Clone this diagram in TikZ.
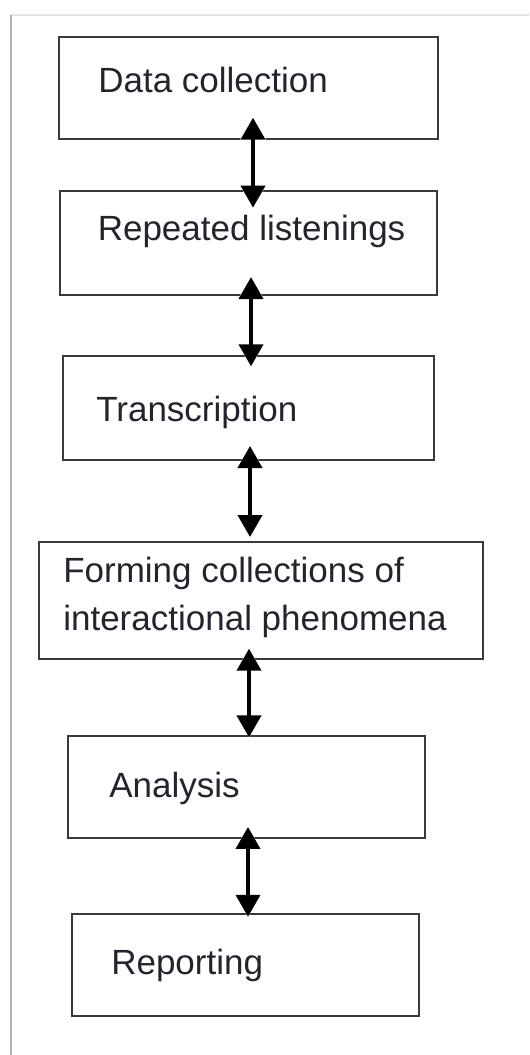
\documentclass[tikz,border=0pt]{standalone}
\usepackage{fontspec}
\setmainfont{Liberation Sans}
\usetikzlibrary{arrows.meta,calc}
\definecolor{boxline}{RGB}{58,58,58}
\definecolor{inktext}{RGB}{36,36,46}
\tikzset{
    stage/.style 2 args={draw=boxline, line width=1.4pt, inner sep=0pt, minimum width=#1cm, minimum height=#2cm},
    stagetext/.style={anchor=base west, inner sep=0pt, text=inktext, font=\fontsize{24.9}{33.6}\selectfont},
    linkgap/.style={draw=white, line width=2.8pt, {Triangle[width=0.78cm,length=0.68cm]}-{Triangle[width=0.78cm,length=0.68cm]}},
    link/.style={line width=2.8pt, {Triangle[width=0.6cm,length=0.55cm]}-{Triangle[width=0.6cm,length=0.55cm]}},
}

\begin{document}
\begin{tikzpicture}[x=0.025cm,y=-0.025cm]
		\useasboundingbox (0,0) rectangle (529,1055);
		\draw[color=gray!22,line width=1.4pt] (11,15) -- (529,15);
		\draw[color=gray!60,line width=1.4pt] (11,15) -- (11,1055);
		\node[stage={9.48}{2.55}] (collect) at (248.35,87.7) {};
		\node[stage={9.41}{2.61}] (listen) at (248.5,242.85) {};
		\node[stage={9.275}{2.6}] (transcribe) at (248.5,407.7) {};
		\node[stage={11.115}{2.925}] (collections) at (261,600.5) {};
		\node[stage={8.925}{2.54}] (analyse) at (246.8,786.85) {};
		\node[stage={8.67}{2.54}] (report) at (245.35,965.15) {};
		\node[stagetext] (collecttext) at (98,92) {Data collection};
		\node[stagetext] (listentext) at (97.5,240.7) {Repeated listenings};
		\node[stagetext] (transcribetext) at (96,421) {Transcription};
		\node[stagetext] (collectionstext) at (63,582.7) {Forming collections of};
		\node[stagetext] (phenomenatext) at (63,630) {interactional phenomena};
		\node[stagetext] (analysetext) at (109,797.7) {Analysis};
		\node[stagetext] (reporttext) at (111,974) {Reporting};
		\foreach \a / \b / \x / \s / \e in {collect/listen/253/22/18,listen/transcribe/251/19/11.6,transcribe/collections/250/14.7/-4,collections/analyse/249/11.3/2.3,analyse/report/248/11.7/3.4} {
			\draw[linkgap] ($(\a.south -| \x,0)+(0,-\s)$) -- ($(\b.north -| \x,0)+(0,\e)$);
			\draw[link] ($(\a.south -| \x,0)+(0,-\s)$) -- ($(\b.north -| \x,0)+(0,\e)$);
		}
	\end{tikzpicture}
\end{document}
